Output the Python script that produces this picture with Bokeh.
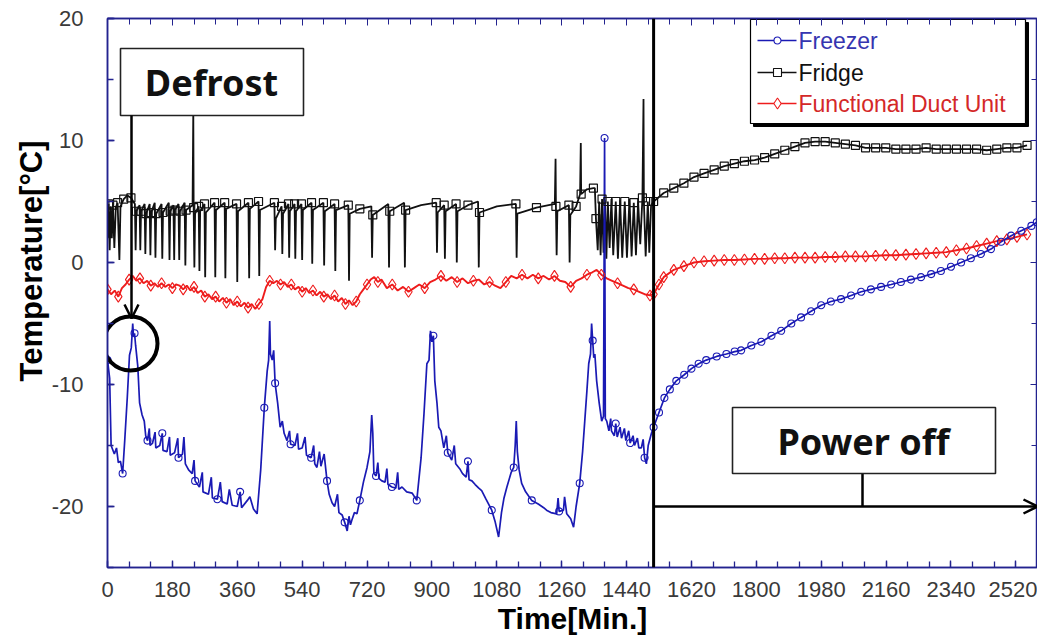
import numpy as np
from bokeh.plotting import figure
from bokeh.models import (Range1d, SingleIntervalTicker, LinearAxis, Span, Arrow, OpenHead, Title,
                          CustomJSTickFormatter)
from bokeh.embed import file_html
from bokeh.resources import INLINE
from bokeh.core.properties import value

# ---------------- data (time [min], temperature [degC]) ----------------
freezer_pts = [
    (0, -8.0), (6, -9.5), (10, -15.0), (19, -15.7), (25, -15.2), (30, -16.4), (36, -16.3), (42, -17.3),
    (48, -14.5), (55, -11.0), (61, -7.6), (66, -7.0), (70, -5.0), (72, -6.0), (75, -5.8), (78, -6.8),
    (84, -8.5), (89, -11.5), (96, -12.5), (102, -13.0), (106, -14.2), (111, -14.6), (116, -13.6),
    (118, -15.0), (125, -14.8), (132, -13.9), (134, -15.2), (145, -15.0), (152, -14.0), (154, -15.4),
    (165, -15.5), (172, -14.3), (174, -15.8), (186, -15.6), (195, -14.4), (197, -16.0), (208, -15.7),
    (212, -14.3), (216, -16.5), (225, -17.0), (235, -17.3), (240, -16.2), (243, -17.9), (255, -18.4),
    (263, -17.2), (265, -18.8), (280, -19.0), (288, -17.6), (291, -19.3), (305, -19.4), (313, -18.0),
    (318, -19.6), (332, -19.8), (338, -18.6), (346, -19.9), (360, -20.0), (368, -18.8), (372, -20.1),
    (388, -19.5), (395, -19.2), (405, -20.2), (415, -20.6), (425, -17.0), (435, -11.9), (443, -8.9),
    (447, -8.0), (450, -4.8), (452, -7.5), (457, -8.0), (461, -7.2), (465, -9.9), (472, -11.5),
    (479, -13.5), (485, -13.0), (490, -14.0), (498, -14.6), (505, -13.8), (508, -14.9), (520, -15.0),
    (527, -14.0), (530, -15.3), (540, -15.2), (548, -14.3), (552, -15.8), (565, -16.0), (572, -15.0),
    (575, -16.5), (581, -16.8), (588, -15.5), (592, -16.7), (601, -15.7), (609, -17.9), (615, -19.0),
    (623, -19.7), (630, -20.0), (638, -19.0), (642, -20.5), (651, -20.7), (658, -21.3), (665, -22.0),
    (670, -20.8), (674, -21.5), (678, -21.1), (685, -20.5), (692, -20.6), (700, -19.5), (710, -18.0),
    (720, -16.8), (728, -15.5), (733, -12.5), (736, -14.0), (739, -17.3), (745, -17.5), (750, -16.4),
    (753, -17.7), (761, -17.9), (770, -18.0), (775, -16.9), (778, -18.2), (789, -18.4), (800, -18.5),
    (805, -17.2), (808, -18.6), (817, -18.4), (830, -18.8), (845, -18.9), (858, -19.5), (870, -16.0),
    (878, -12.4), (886, -8.3), (892, -8.0), (896, -5.6), (900, -6.5), (904, -6.0), (908, -9.7),
    (914, -11.5), (919, -13.5), (925, -13.8), (933, -15.2), (940, -14.2), (944, -15.6), (955, -16.2),
    (962, -15.0), (966, -16.5), (977, -16.9), (985, -17.3), (995, -17.6), (1000, -16.3), (1003, -17.8),
    (1011, -17.9), (1020, -18.2), (1030, -18.5), (1038, -18.7), (1050, -19.4), (1066, -20.3),
    (1075, -21.2), (1085, -22.5), (1093, -20.5), (1100, -19.3), (1108, -18.4), (1120, -17.2),
    (1127, -16.8), (1131, -15.0), (1134, -13.0), (1137, -15.5), (1142, -17.0), (1149, -18.1),
    (1160, -18.8), (1177, -19.5), (1195, -19.8), (1210, -20.1), (1218, -20.3), (1230, -20.5),
    (1246, -20.6), (1250, -19.3), (1253, -20.4), (1265, -20.3), (1268, -19.2), (1274, -20.6),
    (1285, -21.0), (1293, -21.7), (1300, -20.0), (1310, -18.1), (1318, -15.5), (1324, -13.0),
    (1330, -10.5), (1335, -8.3), (1340, -7.5), (1343, -5.0), (1346, -6.4), (1349, -7.8), (1352, -7.5),
    (1357, -9.7), (1364, -11.5), (1371, -13.0), (1376, -12.6), (1379, 10.2), (1381, -12.8),
    (1385, -13.0), (1391, -13.8), (1396, -12.8), (1398, -13.8), (1406, -14.2), (1410, -13.2),
    (1414, -14.3), (1422, -13.5), (1426, -14.4), (1434, -13.6), (1438, -14.6), (1446, -13.8),
    (1450, -14.8), (1458, -14.2), (1462, -15.0), (1470, -14.4), (1474, -15.2), (1481, -15.2),
    (1486, -14.5), (1490, -16.0), (1495, -16.5), (1500, -15.0), (1509, -14.0), (1515, -13.5),
    (1530, -12.3), (1545, -11.1), (1560, -10.4), (1578, -9.7), (1600, -9.2), (1620, -8.7), (1640, -8.3),
    (1661, -8.0), (1690, -7.7), (1717, -7.5), (1740, -7.3), (1758, -7.2), (1786, -6.8), (1814, -6.5),
    (1842, -6.0), (1869, -5.6), (1897, -5.0), (1924, -4.5), (1952, -4.0), (1980, -3.5), (2007, -3.2),
    (2035, -3.0), (2063, -2.7), (2091, -2.4), (2118, -2.2), (2146, -2.0), (2174, -1.8), (2201, -1.6),
    (2229, -1.4), (2257, -1.2), (2285, -0.95), (2312, -0.7), (2340, -0.35), (2368, 0.0), (2395, 0.35),
    (2423, 0.7), (2451, 1.1), (2479, 1.7), (2507, 2.2), (2535, 2.6), (2563, 3.0), (2578, 3.3),
]

fridge_pts = [
    (0, 2.0), (3, 4.8), (6, 1.0), (9, 4.6), (12, 2.0), (15, 4.7), (19, 1.2), (23, 4.5), (28, 4.9),
    (33, 0.2), (36, 4.6), (45, 5.2), (55, 5.5), (65, 5.3), (76, 4.8), (78, 1.0), (80, 4.2), (89, 4.7),
    (91, 1.0), (93, 4.2), (103, 4.8), (105, 0.7), (107, 4.0), (117, 4.8), (119, 0.6), (121, 4.1),
    (131, 4.9), (133, 0.4), (135, 4.0), (150, 4.8), (152, 0.3), (154, 4.1), (170, 4.9), (172, 0.2),
    (174, 4.2), (183, 4.7), (185, 0.2), (187, 4.3), (197, 4.8), (199, 0.2), (201, 4.2), (214, 4.9),
    (216, -0.25), (218, 4.3), (236, 4.7), (238, 12.5), (239, 4.5), (241, -0.4), (243, 4.0), (253, 4.6),
    (255, -0.7), (257, 4.2), (269, 4.8), (271, -1.2), (273, 4.1), (297, 4.9), (299, -1.2), (301, 4.3),
    (325, 4.9), (327, -1.3), (329, 4.4), (358, 4.8), (360, -1.6), (362, 4.2), (391, 4.9), (393, -1.3),
    (395, 4.4), (419, 5.0), (421, -1.1), (423, 4.3), (463, 4.9), (465, 1.0), (467, 3.6), (483, 4.6),
    (485, 0.7), (487, 4.0), (502, 4.8), (504, 0.4), (506, 4.2), (519, 4.8), (521, 0.3), (523, 4.2),
    (538, 4.8), (540, 0.2), (542, 4.3), (566, 4.9), (568, -0.1), (570, 4.3), (599, 4.9), (601, -0.25),
    (603, 4.2), (630, 4.8), (632, -0.7), (634, 4.3), (668, 4.7), (670, -1.5), (672, 4.0), (700, 4.4),
    (732, 4.6), (734, 0.4), (736, 3.9), (779, 4.8), (781, -0.4), (783, 4.2), (823, 4.9), (825, -0.4),
    (827, 4.3), (870, 4.7), (912, 4.9), (914, 0.8), (916, 4.1), (934, 4.7), (936, 0.3), (938, 4.2),
    (967, 4.8), (969, 0.0), (971, 4.2), (1000, 4.7), (1028, 5.0), (1030, -0.4), (1032, 4.1), (1080, 4.6),
    (1133, 4.8), (1135, 0.4), (1137, 4.0), (1190, 4.5), (1241, 4.8), (1243, 8.5), (1244, 4.6),
    (1246, 0.6), (1248, 4.2), (1280, 4.7), (1282, 0.0), (1284, 3.9), (1300, 4.6), (1311, 5.6),
    (1313, 9.8), (1314, 5.6), (1330, 6.0), (1348, 6.1), (1352, 6.1), (1355, 3.6), (1360, 1.0),
    (1364, 5.0), (1368, 0.6), (1372, 5.2), (1376, 0.8), (1380, 5.1), (1384, 0.3), (1388, 5.0),
    (1393, 1.2), (1398, 5.2), (1403, 0.6), (1410, 5.0), (1416, 0.3), (1422, 5.1), (1428, 0.4),
    (1435, 5.0), (1441, 0.4), (1448, 5.2), (1454, 0.5), (1460, 4.9), (1466, 0.6), (1472, 5.0),
    (1478, 1.5), (1484, 5.3), (1487, 13.4), (1488, 5.0), (1493, 0.5), (1499, 5.0), (1503, 0.8),
    (1508, 4.7), (1515, 5.0),
    (1543, 5.7), (1571, 6.1), (1599, 6.5), (1627, 7.0), (1655, 7.3), (1683, 7.6), (1711, 7.9),
    (1739, 8.1), (1767, 8.3), (1795, 8.4), (1823, 8.6), (1851, 8.9), (1879, 9.2), (1907, 9.5),
    (1935, 9.8), (1963, 9.9), (1991, 9.9), (2019, 9.8), (2047, 9.7), (2075, 9.6), (2103, 9.4),
    (2131, 9.4), (2159, 9.4), (2187, 9.3), (2215, 9.3), (2243, 9.3), (2271, 9.4), (2299, 9.3),
    (2327, 9.3), (2355, 9.3), (2383, 9.3), (2411, 9.3), (2439, 9.2), (2467, 9.3), (2495, 9.4),
    (2523, 9.4), (2551, 9.6),
]

duct_pts = [
    (0, -2.2), (10, -2.6), (20, -2.3), (30, -2.8), (40, -2.1), (50, -1.8), (60, -1.4), (70, -1.1),
    (80, -1.5), (90, -1.3), (100, -1.7), (110, -1.5), (120, -1.9), (130, -1.7), (140, -2.0), (150, -1.7),
    (160, -2.0), (170, -1.8), (180, -2.1), (190, -1.8), (200, -1.9), (210, -2.2), (220, -1.9), (230, -2.3),
    (240, -2.0), (250, -2.5), (260, -2.3), (270, -2.8), (280, -2.6), (290, -3.0), (300, -2.8), (310, -3.2),
    (320, -2.9), (330, -3.3), (340, -3.0), (350, -3.5), (360, -3.2), (370, -3.6), (380, -3.3), (390, -3.7),
    (400, -3.4), (410, -3.8), (420, -3.4), (430, -3.0), (440, -2.0), (450, -1.5), (460, -1.7), (470, -1.5),
    (480, -1.8), (490, -1.6), (500, -2.0), (510, -1.8), (520, -2.2), (530, -2.0), (540, -2.4), (550, -2.1),
    (560, -2.5), (570, -2.3), (580, -2.7), (590, -2.4), (600, -2.8), (610, -2.6), (620, -3.0), (630, -2.7),
    (640, -3.2), (650, -2.9), (660, -3.4), (670, -3.1), (680, -3.5), (690, -3.2), (700, -2.6), (710, -2.2),
    (720, -1.8), (730, -1.4), (740, -1.2), (750, -1.6), (760, -1.4), (775, -2.1), (790, -1.8), (805, -2.3),
    (820, -2.0), (835, -2.4), (850, -2.1), (865, -1.8), (880, -2.1), (895, -1.6), (910, -1.4), (925, -1.1),
    (940, -1.5), (955, -1.2), (970, -1.6), (985, -1.3), (1000, -1.7), (1015, -1.5), (1030, -1.4),
    (1045, -1.8), (1060, -1.6), (1075, -1.9), (1090, -2.1), (1105, -1.6), (1120, -1.1), (1135, -1.3),
    (1150, -1.0), (1165, -1.3), (1180, -1.0), (1195, -1.3), (1210, -1.1), (1225, -1.4), (1240, -1.1),
    (1255, -1.5), (1270, -1.6), (1285, -2.0), (1300, -1.5), (1315, -1.3), (1330, -1.0), (1345, -0.8),
    (1357, -0.6), (1370, -1.0), (1385, -1.3), (1400, -1.5), (1415, -1.7), (1430, -1.9), (1445, -2.1),
    (1460, -2.2), (1475, -2.4), (1490, -2.6), (1505, -2.7), (1515, -2.6),
    (1530, -1.8), (1543, -1.2), (1571, -0.6), (1599, -0.3), (1627, 0.0), (1655, 0.1), (1683, 0.15),
    (1711, 0.2), (1739, 0.2), (1767, 0.25), (1795, 0.3), (1823, 0.3), (1851, 0.35), (1879, 0.35),
    (1907, 0.4), (1935, 0.4), (1963, 0.4), (1991, 0.45), (2019, 0.45), (2047, 0.5), (2075, 0.5),
    (2103, 0.5), (2131, 0.55), (2159, 0.6), (2187, 0.6), (2215, 0.65), (2243, 0.7), (2271, 0.75),
    (2299, 0.8), (2327, 0.85), (2355, 1.0), (2383, 1.15), (2411, 1.35), (2439, 1.55), (2467, 1.75),
    (2495, 1.9), (2523, 2.1), (2551, 2.3),
]

power_off_time = 1515
x_ticks_step = 180

# ---------------- colours ----------------
BLUE = "#1a1ab4"
RED = "#ee1c1c"
BLACK = "#111111"
AXIS = "#23238f"


def split(pts):
    a = np.array(pts, dtype=float)
    return a[:, 0], a[:, 1]


p = figure(frame_width=930, frame_height=549, output_backend="svg", toolbar_location=None,
           x_range=Range1d(0, 2580), y_range=Range1d(-25, 20), background_fill_color="white",
           border_fill_color="white")
p.min_border_left = 107
p.min_border_top = 18
p.min_border_right = 0
p.min_border_bottom = 62
p.xgrid.visible = False
p.ygrid.visible = False
p.outline_line_color = AXIS
p.outline_line_width = 1.5


# reference-picture pixel -> data helpers for annotation placement
def tx(px):
    return (px - 107) / 930 * 2580


def vy(py):
    return 20 - (py - 18) / 549 * 45


# series
ft, fv = split(freezer_pts)
rt, rv = split(fridge_pts)
dt, dv = split(duct_pts)

p.line(dt, dv, line_color=RED, line_width=1.9)
p.line(rt, rv, line_color=BLACK, line_width=1.8)
p.line(ft, fv, line_color=BLUE, line_width=1.7)

# markers (sub-sampled before power off, every point after)
pre = dt < power_off_time
p.scatter(np.r_[dt[pre][::3], dt[~pre]], np.r_[dv[pre][::3], dv[~pre]], marker="diamond", size=11,
          fill_alpha=0.0, line_color=RED, line_width=1.1)
pre = rt < power_off_time
sel = pre & (rv > 3.5) & (rv < 6.5)
p.scatter(np.r_[rt[sel][::2], rt[~pre]], np.r_[rv[sel][::2], rv[~pre]], marker="square", size=8,
          fill_alpha=0.0, line_color=BLACK, line_width=1.2)
pre = ft < power_off_time
p.scatter(np.r_[ft[pre][::7], ft[~pre]], np.r_[fv[pre][::7], fv[~pre]], marker="circle", size=7,
          fill_alpha=0.0, line_color=BLUE, line_width=1.1)

# ---- Defrost annotation ----
p.quad(left=[tx(120)], right=[tx(303)], top=[vy(48)], bottom=[vy(115)], fill_color="white",
       line_color="#222222", line_width=1.6)
p.text([tx(211)], [vy(82)], text=["Defrost"], text_font=value("Noto Sans"), text_font_style="bold",
       text_font_size="36px", text_align="center", text_baseline="middle", text_color="#111111")
p.add_layout(Arrow(x_start=tx(131), y_start=vy(115), x_end=tx(131), y_end=vy(318),
                   line_width=2.5, line_color="black",
                   end=OpenHead(size=14, line_width=2.5, line_color="black")))
p.scatter([tx(130)], [vy(343)], marker="circle", size=54, fill_alpha=0.0, line_color="black",
          line_width=4)

# ---- Power off annotation ----
p.add_layout(Span(location=power_off_time, dimension="height", line_color="black", line_width=3))
p.add_layout(Arrow(x_start=power_off_time, y_start=-20, x_end=tx(1037), y_end=-20,
                   line_width=2.5, line_color="black",
                   end=OpenHead(size=14, line_width=2.5, line_color="black")))
p.segment([tx(862)], [vy(473)], [tx(862)], [-20], line_color="black", line_width=2.5)
p.quad(left=[tx(732)], right=[tx(995)], top=[vy(407)], bottom=[vy(473)], fill_color="white",
       line_color="#222222", line_width=1.6)
p.text([tx(863)], [vy(441)], text=["Power off"], text_font=value("Noto Sans"), text_font_style="bold",
       text_font_size="36px", text_align="center", text_baseline="middle", text_color="#111111")

# ---- legend (drawn by hand so that each label keeps its series colour) ----
p.quad(left=[tx(753)], right=[tx(1028)], top=[vy(22)], bottom=[vy(126)], fill_color="black",
       line_color="black")
p.quad(left=[tx(750)], right=[tx(1025)], top=[vy(19)], bottom=[vy(123)], fill_color="white",
       line_color="black", line_width=1.2)
leg_names = ["Freezer", "Fridge", "Functional Duct Unit"]
leg_cols = [BLUE, BLACK, RED]
leg_text_cols = ["#3535b0", "#111111", "#d42828"]
leg_marks = ["circle", "square", "diamond"]
leg_sizes = [7, 8, 11]
leg_rows = [40, 72, 103]
for name, col, tcol, mk, sz, row in zip(leg_names, leg_cols, leg_text_cols, leg_marks, leg_sizes, leg_rows):
    p.segment([tx(757)], [vy(row)], [tx(796)], [vy(row)], line_color=col, line_width=1.6)
    p.scatter([tx(777)], [vy(row)], marker=mk, size=sz, fill_color="white", line_color=col,
              line_width=1.1)
    p.text([tx(798)], [vy(row)], text=[name], text_font=value("Liberation Sans"),
           text_font_size="23px", text_align="left", text_baseline="middle", text_color=tcol)

# ---- axes ----
plain = CustomJSTickFormatter(code="return tick.toFixed(0);")
p.xaxis.ticker = SingleIntervalTicker(interval=x_ticks_step, num_minor_ticks=3)
p.yaxis.ticker = SingleIntervalTicker(interval=10, num_minor_ticks=2)
p.yaxis.formatter = plain
for ax in (p.xaxis[0], p.yaxis[0]):
    ax.axis_line_color = AXIS
    ax.axis_line_width = 1.5
    ax.major_tick_line_color = AXIS
    ax.minor_tick_line_color = AXIS
    ax.major_tick_in = 7
    ax.major_tick_out = 0
    ax.minor_tick_in = 6
    ax.minor_tick_out = 0
    ax.major_tick_line_width = 1.3
    ax.minor_tick_line_width = 1.3
    ax.major_label_text_font = "Liberation Sans"
    ax.major_label_text_font_size = "22px"
    ax.major_label_text_color = "#3a3a3a"
p.xaxis.major_label_standoff = 14
p.yaxis.major_label_standoff = 24
p.xaxis.axis_label = "Time[Min.]"
p.xaxis.axis_label_text_font = "Liberation Sans"
p.xaxis.axis_label_text_font_style = "bold"
p.xaxis.axis_label_text_font_size = "30px"
p.xaxis.axis_label_text_color = "black"
p.xaxis.axis_label_standoff = 2

blank = CustomJSTickFormatter(code="return '';")
for loc, tk in (("above", SingleIntervalTicker(interval=x_ticks_step, num_minor_ticks=3)),
                ("right", SingleIntervalTicker(interval=10, num_minor_ticks=2))):
    ax = LinearAxis(ticker=tk, formatter=blank, axis_line_color=AXIS, axis_line_width=1.5,
                    major_tick_in=7, major_tick_out=0, minor_tick_in=6, minor_tick_out=0,
                    major_tick_line_color=AXIS, minor_tick_line_color=AXIS, major_label_standoff=0)
    p.add_layout(ax, loc)

p.add_layout(Title(text="Temperature[°C]", align="right", offset=122, text_font="Liberation Sans",
                   text_font_style="bold", text_font_size="31px", text_color="black", standoff=0),
             "left")

open("out.html", "w").write(file_html(p, INLINE))
